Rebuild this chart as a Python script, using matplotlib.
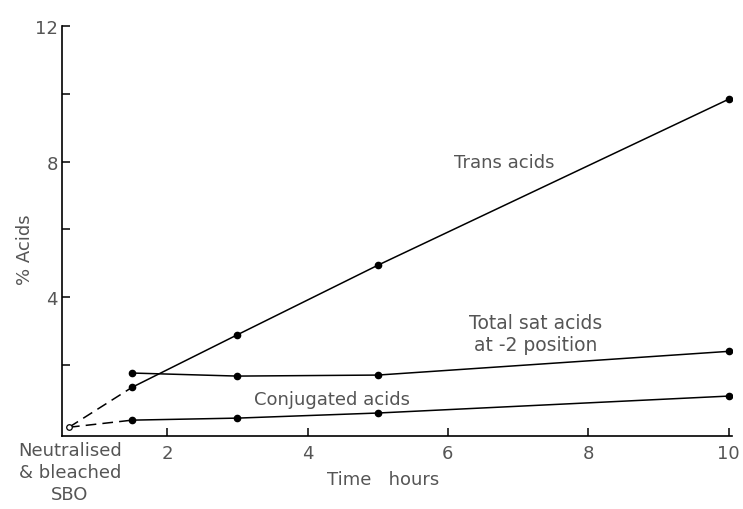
import matplotlib.pyplot as plt

# values (time in hours, % acids)
start_time = 0.6
start_value = 0.16
times = [1.5, 3, 5, 10]
trans_acids = [1.34, 2.89, 4.94, 9.84]
total_sat_acids = [1.76, 1.67, 1.70, 2.40]
conjugated_acids = [0.37, 0.43, 0.58, 1.08]

x_ticks = [2, 4, 6, 8, 10]
y_ticks = [2, 4, 6, 8, 10, 12]
y_labels = ["", "4", "", "8", "", "12"]

plt.rcParams['font.family'] = ['DejaVu Sans']
txt = '#555555'

fig = plt.figure(figsize=(7.43, 5.10), dpi=100)
ax = fig.add_axes([0.0834, 0.143, 0.902, 0.804])

lw = 1.1
for vals in (trans_acids, total_sat_acids, conjugated_acids):
    ax.plot(times, vals, color='black', lw=lw, marker='o', ms=4.5, zorder=3)

# dashed extrapolation back to the starting oil
ax.plot([start_time, times[0]], [start_value, trans_acids[0]],
        color='black', lw=lw, ls=(0, (7, 4)))
ax.plot([start_time, times[0]], [start_value, conjugated_acids[0]],
        color='black', lw=lw, ls=(0, (7, 4)))
ax.plot([start_time], [start_value], marker='o', ms=4, mfc='white',
        mec='black', mew=0.9, ls='none')

ax.text(6.8, 8.0, "Trans acids", fontsize=13, color=txt, ha='center', va='center')
ax.text(7.25, 2.93, "Total sat acids\nat -2 position", fontsize=13.5, color=txt,
        ha='center', va='center', linespacing=1.25)
ax.text(4.35, 0.98, "Conjugated acids", fontsize=13, color=txt, ha='center', va='center')

ax.set_xlim(0.5, 10.05)
ax.set_ylim(-0.1, 12)
ax.spines['top'].set_visible(False)
ax.spines['right'].set_visible(False)
ax.spines['left'].set_linewidth(1.2)
ax.spines['bottom'].set_linewidth(1.2)

ax.set_xticks(x_ticks)
ax.set_xticklabels([str(t) for t in x_ticks])
ax.set_yticks(y_ticks)
ax.set_yticklabels(y_labels)
ax.tick_params(axis='both', direction='in', length=6, width=1.1,
               labelsize=13, labelcolor=txt)
ax.tick_params(axis='x', pad=6)
ax.tick_params(axis='y', pad=3)

fig.text(0.094, 0.073, "Neutralised\n& bleached\nSBO", fontsize=13, color=txt,
         ha='center', va='center', linespacing=1.3)
fig.text(0.515, 0.058, "Time   hours", fontsize=13, color=txt, ha='center', va='center')
fig.text(0.034, 0.51, "% Acids", fontsize=13, color=txt, ha='center', va='center',
         rotation=90)

fig.savefig('out.png', dpi=100)
